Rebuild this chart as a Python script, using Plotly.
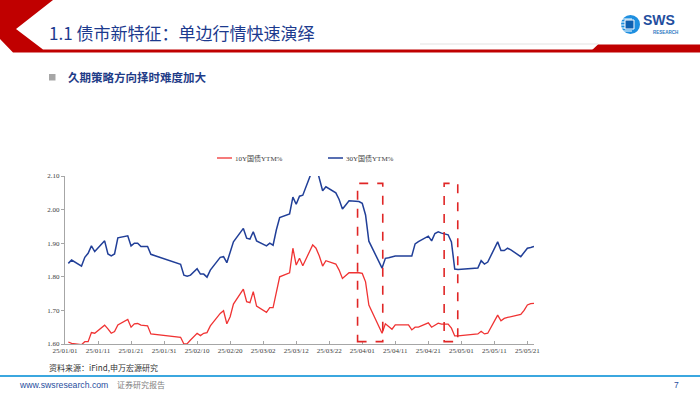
import plotly.graph_objects as go

# ---------------- data ----------------
dates = [
    "2025-01-02", "2025-01-03", "2025-01-06", "2025-01-07", "2025-01-08", "2025-01-09", "2025-01-10",
    "2025-01-13", "2025-01-14", "2025-01-15", "2025-01-16", "2025-01-17", "2025-01-20", "2025-01-21",
    "2025-01-22", "2025-01-23", "2025-01-24", "2025-01-26", "2025-01-27", "2025-02-05", "2025-02-06",
    "2025-02-07", "2025-02-08", "2025-02-10", "2025-02-11", "2025-02-12", "2025-02-13", "2025-02-14",
    "2025-02-17", "2025-02-18", "2025-02-19", "2025-02-20", "2025-02-21", "2025-02-24", "2025-02-25",
    "2025-02-26", "2025-02-27", "2025-02-28", "2025-03-03", "2025-03-04", "2025-03-05", "2025-03-06",
    "2025-03-07", "2025-03-10", "2025-03-11", "2025-03-12", "2025-03-13", "2025-03-14", "2025-03-17",
    "2025-03-18", "2025-03-19", "2025-03-20", "2025-03-21", "2025-03-24", "2025-03-25", "2025-03-26",
    "2025-03-27", "2025-03-28", "2025-03-31", "2025-04-01", "2025-04-02", "2025-04-03", "2025-04-07",
    "2025-04-08", "2025-04-09", "2025-04-10", "2025-04-11", "2025-04-14", "2025-04-15", "2025-04-16",
    "2025-04-17", "2025-04-18", "2025-04-21", "2025-04-22", "2025-04-23", "2025-04-24", "2025-04-25",
    "2025-04-27", "2025-04-28", "2025-04-29", "2025-04-30", "2025-05-06", "2025-05-07", "2025-05-08",
    "2025-05-09", "2025-05-12", "2025-05-13", "2025-05-14", "2025-05-15", "2025-05-16", "2025-05-19",
    "2025-05-20", "2025-05-21", "2025-05-22", "2025-05-23",
]

ytm_10y = [
    1.606, 1.602, 1.598, 1.607, 1.607, 1.634, 1.632,
    1.656, 1.645, 1.632, 1.637, 1.657, 1.673, 1.650,
    1.660, 1.661, 1.656, 1.654, 1.630, 1.620, 1.600,
    1.601, 1.612, 1.632, 1.625, 1.632, 1.634, 1.654,
    1.691, 1.699, 1.660, 1.681, 1.719, 1.763, 1.726,
    1.723, 1.756, 1.713, 1.694, 1.708, 1.708, 1.755,
    1.800, 1.812, 1.885, 1.835, 1.855, 1.833, 1.895,
    1.885, 1.862, 1.832, 1.848, 1.838, 1.820, 1.795,
    1.805, 1.812, 1.812, 1.810, 1.785, 1.716, 1.632,
    1.660, 1.652, 1.644, 1.657, 1.657, 1.657, 1.642,
    1.650, 1.650, 1.663, 1.650, 1.657, 1.662, 1.659,
    1.659, 1.647, 1.624, 1.624, 1.630, 1.638, 1.630,
    1.632, 1.686, 1.669, 1.676, 1.679, 1.681, 1.688,
    1.700, 1.716, 1.720, 1.721,
]

ytm_30y = [
    1.840, 1.850, 1.832, 1.858, 1.870, 1.892, 1.875,
    1.907, 1.868, 1.862, 1.868, 1.916, 1.922, 1.892,
    1.900, 1.900, 1.890, 1.890, 1.867, 1.837, 1.805,
    1.802, 1.805, 1.824, 1.808, 1.808, 1.799, 1.820,
    1.858, 1.860, 1.842, 1.875, 1.904, 1.944, 1.915,
    1.912, 1.934, 1.907, 1.892, 1.900, 1.894, 1.940,
    1.976, 1.987, 2.037, 2.016, 2.040, 2.043, 2.120,
    2.130, 2.090, 2.056, 2.068, 2.050, 2.030, 2.002,
    2.014, 2.026, 2.024, 2.019, 1.984, 1.906, 1.826,
    1.855, 1.857, 1.860, 1.862, 1.862, 1.861, 1.862,
    1.898, 1.905, 1.921, 1.907, 1.929, 1.934, 1.930,
    1.925, 1.904, 1.823, 1.822, 1.826, 1.848, 1.838,
    1.844, 1.904, 1.878, 1.878, 1.885, 1.880, 1.860,
    1.872, 1.885, 1.887, 1.890,
]

series_names = ["10Y国债YTM%", "30Y国债YTM%"]

x_tick_vals = ["2025-01-01", "2025-01-11", "2025-01-21", "2025-01-31", "2025-02-10", "2025-02-20",
               "2025-03-02", "2025-03-12", "2025-03-22", "2025-04-01", "2025-04-11", "2025-04-21",
               "2025-05-01", "2025-05-11", "2025-05-21"]
x_tick_text = ["25/01/01", "25/01/11", "25/01/21", "25/01/31", "25/02/10", "25/02/20",
               "25/03/02", "25/03/12", "25/03/22", "25/04/01", "25/04/11", "25/04/21",
               "25/05/01", "25/05/11", "25/05/21"]
y_tick_vals = [1.60, 1.70, 1.80, 1.90, 2.00, 2.10]
y_tick_text = ["1.60", "1.70", "1.80", "1.90", "2.00", "2.10"]

# highlighted windows (dashed boxes)
box_x = [("2025-03-30 14:00", "2025-04-07 05:00"), ("2025-04-25 19:00", "2025-04-29 22:00")]
box_y = (1.607, 2.078)

title_text = "1.1 债市新特征：单边行情快速演绎"
subtitle_text = "久期策略方向择时难度加大"
source_text = "资料来源：iFind,申万宏源研究"

# ---------------- layout helpers ----------------
W, H = 700, 394


def px(x):
    return x / W


def py(y):
    return 1 - y / H


RED = "#F03333"
BLUE = "#213F98"
SERIF = "Liberation Serif, Times New Roman, Noto Sans CJK SC"
CJK = "Noto Sans CJK SC, sans-serif"

fig = go.Figure()
fig.add_trace(go.Scatter(x=dates, y=ytm_10y, mode="lines", name=series_names[0],
                         line=dict(color=RED, width=1.3), showlegend=False))
fig.add_trace(go.Scatter(x=dates, y=ytm_30y, mode="lines", name=series_names[1],
                         line=dict(color=BLUE, width=1.5), showlegend=False))

shapes = []
# dashed highlight boxes (data coords)
for x0, x1 in box_x:
    shapes.append(dict(type="rect", xref="x", yref="y", x0=x0, x1=x1, y0=box_y[0], y1=box_y[1],
                       line=dict(color="#E02626", width=1.6, dash="dash"), fillcolor="rgba(0,0,0,0)"))

# header red chevron + line
shapes.append(dict(type="path", xref="paper", yref="paper",
                   path=(f"M {px(0)},{py(0)} L {px(53)},{py(0)} L {px(16)},{py(29)} L {px(43)},{py(49.5)} "
                         f"L {px(700)},{py(49.5)} L {px(700)},{py(52.5)} L {px(13)},{py(52.5)} L {px(0)},{py(39)} Z"),
                   fillcolor="#C00000", line=dict(width=0)))
shapes.append(dict(type="path", xref="paper", yref="paper",
                   path=(f"M {px(590)},{py(52)} L {px(598)},{py(44.5)} L {px(700)},{py(44.5)} "
                         f"L {px(700)},{py(52)} Z"),
                   fillcolor="#C00000", line=dict(width=0)))
shapes.append(dict(type="line", xref="paper", yref="paper", x0=px(420), x1=px(598), y0=py(44), y1=py(44),
                   line=dict(color="#E3E3E3", width=1)))
# SWS logo icon
shapes.append(dict(type="circle", xref="paper", yref="paper", x0=px(621), x1=px(640), y0=py(34), y1=py(15),
                   fillcolor="#1E8FE0", line=dict(width=0)))
for yy in [19, 22, 25, 28, 31]:
    shapes.append(dict(type="line", xref="paper", yref="paper", x0=px(620), x1=px(632), y0=py(yy), y1=py(yy),
                       line=dict(color="white", width=1)))
shapes.append(dict(type="rect", xref="paper", yref="paper", x0=px(625), x1=px(634), y0=py(29), y1=py(20),
                   fillcolor="#0E5FB0", line=dict(color="white", width=1)))
# subtitle bullet
shapes.append(dict(type="rect", xref="paper", yref="paper", x0=px(49), x1=px(55.5), y0=py(80.5), y1=py(74),
                   fillcolor="#A6A6A6", line=dict(width=0)))
# legend symbols
shapes.append(dict(type="line", xref="paper", yref="paper", x0=px(217), x1=px(232), y0=py(158), y1=py(158),
                   line=dict(color=RED, width=1.3)))
shapes.append(dict(type="line", xref="paper", yref="paper", x0=px(328), x1=px(343), y0=py(158), y1=py(158),
                   line=dict(color=BLUE, width=1.5)))
# footer line
shapes.append(dict(type="line", xref="paper", yref="paper", x0=0, x1=1, y0=py(376), y1=py(376),
                   line=dict(color="#3BA7DF", width=2)))


def note(text, x, y, size, color, family, xanchor="left"):
    return dict(text=text, x=px(x), y=py(y), xref="paper", yref="paper", xanchor=xanchor,
                yanchor="middle", showarrow=False, font=dict(family=family, size=size, color=color))


annotations = [
    note(title_text, 47, 32, 17, "#1C3A8E", CJK),
    note("<b>SWS</b>", 641, 20.5, 14, "#1F4E9E", "Liberation Sans, Arial"),
    note("<b>RESEARCH</b>", 651, 32.5, 4.5, "#2C78C2", "Liberation Sans, Arial"),
    note("<b>" + subtitle_text + "</b>", 66, 77, 11.5, "#1F3C88", CJK),
    note(series_names[0], 233, 158, 7, "#404040", SERIF),
    note(series_names[1], 344, 158, 7, "#404040", SERIF),
    note(source_text, 47, 367, 8, "#333333", CJK),
    note("www.swsresearch.com", 17, 385, 8.7, "#1F4E9E", "Liberation Sans, Arial"),
    note("证券研究报告", 115, 384.5, 8, "#808080", CJK),
    note("7", 676, 385, 8.5, "#1F4E9E", "Liberation Sans, Arial", xanchor="center"),
]

fig.update_layout(
    width=W, height=H,
    margin=dict(l=0, r=0, t=0, b=0),
    paper_bgcolor="white", plot_bgcolor="white",
    showlegend=False,
    shapes=shapes,
    annotations=annotations,
    xaxis=dict(
        type="date", domain=[px(65), px(534)], range=["2025-01-01", "2025-05-23"],
        tickmode="array", tickvals=x_tick_vals, ticktext=x_tick_text,
        ticks="inside", ticklen=3, tickcolor="#A6A6A6",
        showline=True, linecolor="#A6A6A6", linewidth=1,
        showgrid=False, zeroline=False, automargin=False,
        tickfont=dict(family=SERIF, size=7, color="#404040"),
    ),
    yaxis=dict(
        domain=[py(344), py(176)], range=[1.60, 2.10],
        tickmode="array", tickvals=y_tick_vals, ticktext=y_tick_text,
        ticks="outside", ticklen=3, tickcolor="#A6A6A6",
        showline=True, linecolor="#A6A6A6", linewidth=1,
        showgrid=False, zeroline=False, automargin=False,
        tickfont=dict(family=SERIF, size=7, color="#404040"),
    ),
)

fig.write_html("out.html", config={"displayModeBar": False},
               post_script="document.body.style.margin='0px';document.body.style.padding='0px';")
